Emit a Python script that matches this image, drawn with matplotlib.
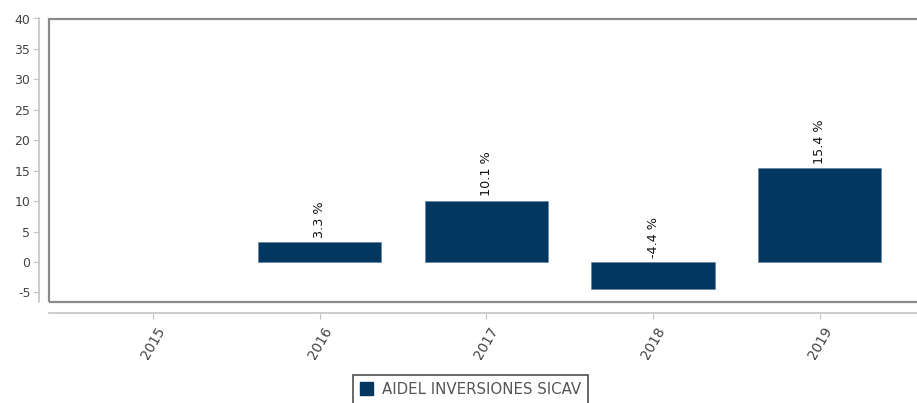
import matplotlib
matplotlib.use("Agg")
import matplotlib.pyplot as plt
from matplotlib.patches import Rectangle

years = ["2015", "2016", "2017", "2018", "2019"]
values = [None, 3.3, 10.1, -4.4, 15.4]
labels = [None, "3.3 %", "10.1 %", "-4.4 %", "15.4 %"]
series_name = "AIDEL INVERSIONES SICAV"
yticks = [-5, 0, 5, 10, 15, 20, 25, 30, 35, 40]

plt.rcParams['font.family'] = ['DejaVu Sans']

W, H = 917, 403
fig = plt.figure(figsize=(W / 100, H / 100), dpi=100)
left, right, top, bottom = 48.5, 925, 18.5, 302
ax = fig.add_axes([left / W, 1 - bottom / H, (right - left) / W, (bottom - top) / H])

bar_color = "#03375f"
xs = [i for i, v in enumerate(values) if v is not None]
vs = [v for v in values if v is not None]
ax.bar(xs, vs, width=0.74, color=bar_color, edgecolor="#5b7fa0", linewidth=0.4, zorder=3)

for i, (v, lab) in enumerate(zip(values, labels)):
    if v is None:
        continue
    base = max(v, 0)
    ax.annotate(lab, xy=(i, base), xytext=(0, 3), textcoords="offset points",
                rotation=90, ha="center", va="bottom", fontsize=9.2, color="#111111")

ax.set_xlim(-0.627, (right - 153) / 166.7)
ax.set_ylim(-6.57, 40)

# frame box
ax.add_patch(Rectangle((0, 0), 1, 1, transform=ax.transAxes, fill=False,
                       edgecolor="#8a8a8a", linewidth=1.6, zorder=5, clip_on=False))

for s in ["top", "right"]:
    ax.spines[s].set_visible(False)
ax.spines["left"].set_position(("outward", 7))
ax.spines["bottom"].set_position(("outward", 8))
ax.spines["left"].set_color("#c4c4c4")
ax.spines["bottom"].set_color("#c4c4c4")
ax.spines["left"].set_linewidth(1.2)
ax.spines["bottom"].set_linewidth(1.2)

ax.set_yticks(yticks)
ax.set_yticklabels([str(t) for t in yticks])
ax.set_xticks(range(len(years)))
ax.set_xticklabels(years, rotation=60, ha="center", va="top")
ax.tick_params(axis="y", length=4, color="#c4c4c4", labelsize=9, labelcolor="#444444", pad=2)
ax.tick_params(axis="x", length=4, color="#c4c4c4", labelsize=9.8, labelcolor="#444444", pad=4)

handle = Rectangle((0, 0), 1, 1, color=bar_color)
leg = fig.legend([handle], [series_name], loc="upper center",
                 bbox_to_anchor=(470.5 / W, 1 - 375 / H), frameon=True, fancybox=False,
                 fontsize=10.8, handlelength=0.9, handleheight=0.9, handletextpad=0.6,
                 borderpad=0.45, borderaxespad=0, labelcolor="#555555")
leg.get_frame().set_edgecolor("#222222")
leg.get_frame().set_linewidth(1.2)

fig.savefig("out.png", dpi=100)
